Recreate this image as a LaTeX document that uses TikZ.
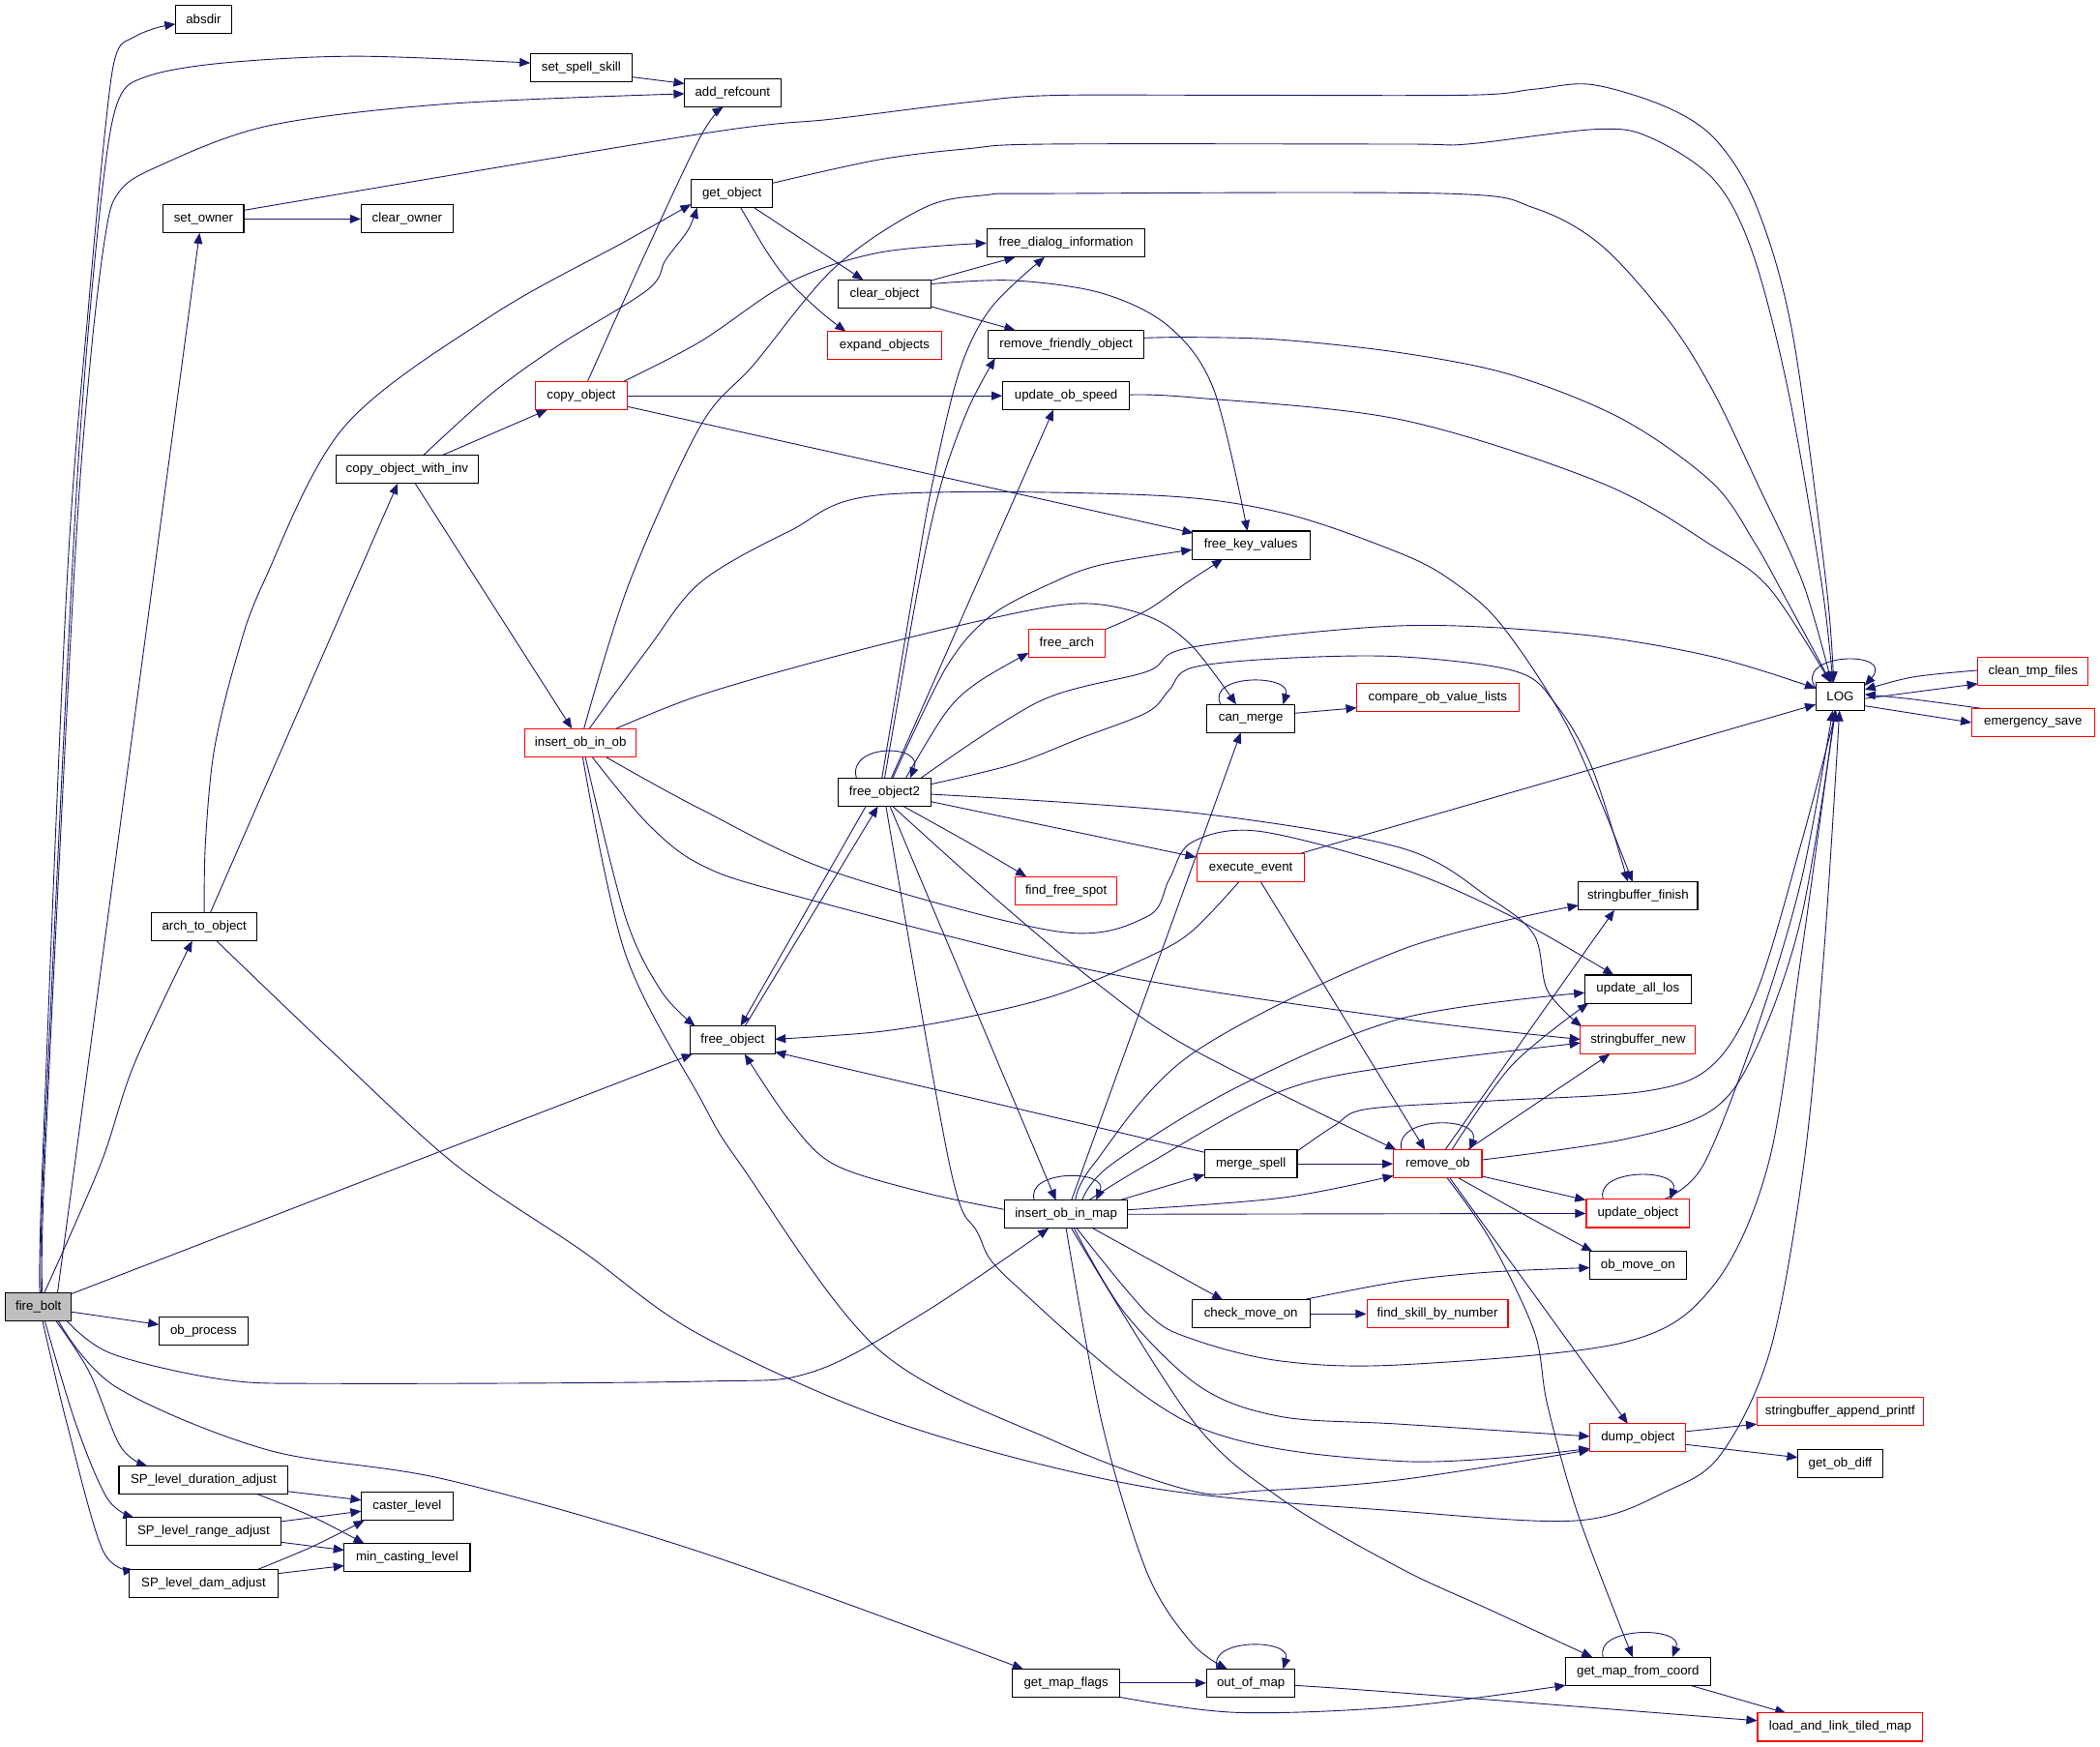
\documentclass[tikz,border=0pt]{standalone}
\usepackage{fontspec}
\setmainfont{Liberation Sans}
\usetikzlibrary{arrows.meta,calc,backgrounds}
\definecolor{edgec}{HTML}{191970}
\definecolor{fbgray}{HTML}{BFBFBF}
\definecolor{redb}{HTML}{FF0000}
\newcommand\nodefont{\fontsize{9.6}{11}\selectfont}
\tikzset{
  box/.style={draw=black, line width=0.8pt, minimum height=21, inner sep=0pt, font=\nodefont, fill=white},
  rbox/.style={box, draw=redb},
  e/.style={draw=edgec, line width=0.65pt, -{Triangle[length=8pt,width=6.5pt]}},
}
\begin{document}
\begin{tikzpicture}[x=1pt,y=-1pt]
\useasboundingbox (0,0) rectangle (1568,1303.66);
% ---------- nodes ----------
\node[box, minimum width=49.4, fill=fbgray] (FB) at (28.7,975.5) {fire\_bolt};
\node[box, minimum width=42] (AD) at (152,14.3) {absdir};
\node[box, minimum width=76] (SS) at (434,50.5) {set\_spell\_skill};
\node[box, minimum width=72] (AR) at (547,69.4) {add\_refcount};
\node[box, minimum width=60] (SO) at (152,163.5) {set\_owner};
\node[box, minimum width=68.5] (CO) at (304,163.5) {clear\_owner};
\node[box, minimum width=61] (GO) at (546.5,144.5) {get\_object};
\node[rbox, minimum width=68.5] (CP) at (434,295.5) {copy\_object};
\node[box, minimum width=106.5] (CWI) at (304,350.5) {copy\_object\_with\_inv};
\node[box, minimum width=118] (FDI) at (796,181.5) {free\_dialog\_information};
\node[box, minimum width=69] (CLO) at (660.5,219.5) {clear\_object};
\node[rbox, minimum width=85] (EO) at (660.5,258) {expand\_objects};
\node[box, minimum width=116.5] (RFO) at (796,257) {remove\_friendly\_object};
\node[box, minimum width=94.5] (UOS) at (796,295.5) {update\_ob\_speed};
\node[box, minimum width=88] (FKV) at (934,407) {free\_key\_values};
\node[rbox, minimum width=83] (IOO) at (433.5,554.5) {insert\_ob\_in\_ob};
\node[box, minimum width=79] (ATO) at (152.5,692) {arch\_to\_object};
\node[box, minimum width=69] (FO2) at (660.5,591.5) {free\_object2};
\node[rbox, minimum width=57] (FA) at (796.5,480.5) {free\_arch};
\node[box, minimum width=66] (CM) at (934,536.5) {can\_merge};
\node[rbox, minimum width=121] (COVL) at (1073.5,521) {compare\_ob\_value\_lists};
\node[rbox, minimum width=76] (FFS) at (796,665) {find\_free\_spot};
\node[rbox, minimum width=80] (EE) at (934,648) {execute\_event};
\node[box, minimum width=63.3] (FO) at (547,776.5) {free\_object};
\node[box, minimum width=69] (MS) at (934,869) {merge\_spell};
\node[box, minimum width=36.6] (LOG) at (1374,520) {LOG};
\node[rbox, minimum width=82.5] (CTF) at (1518,501) {clean\_tmp\_files};
\node[rbox, minimum width=92] (ES) at (1518,539.5) {emergency\_save};
\node[box, minimum width=89] (SBF) at (1223,669) {stringbuffer\_finish};
\node[box, minimum width=79.5] (UAL) at (1223,738.5) {update\_all\_los};
\node[rbox, minimum width=86] (SBN) at (1223,776.5) {stringbuffer\_new};
\node[rbox, minimum width=66] (RO) at (1073.5,869) {remove\_ob};
\node[box, minimum width=91.5] (IOM) at (796,906.6) {insert\_ob\_in\_map};
\node[rbox, minimum width=77] (UO) at (1223,906) {update\_object};
\node[box, minimum width=72] (OMO) at (1223,944.8) {ob\_move\_on};
\node[box, minimum width=88] (CMO) at (934,981) {check\_move\_on};
\node[rbox, minimum width=105.4] (FSN) at (1073.3,981) {find\_skill\_by\_number};
\node[box, minimum width=66.7] (OP) at (152,994) {ob\_process};
\node[rbox, minimum width=124.6] (SAP) at (1374,1054) {stringbuffer\_append\_printf};
\node[rbox, minimum width=71.4] (DO) at (1223,1073.5) {dump\_object};
\node[box, minimum width=63.4] (GOD) at (1374,1092.8) {get\_ob\_diff};
\node[box, minimum width=126.3] (SPD) at (152,1105) {SP\_level\_duration\_adjust};
\node[box, minimum width=68.5] (CL) at (304,1124.7) {caster\_level};
\node[box, minimum width=116] (SPR) at (152,1143.5) {SP\_level\_range\_adjust};
\node[box, minimum width=94] (MCL) at (304,1163) {min\_casting\_level};
\node[box, minimum width=111.5] (SPDA) at (152,1182.5) {SP\_level\_dam\_adjust};
\node[box, minimum width=80] (GMF) at (796,1256.6) {get\_map\_flags};
\node[box, minimum width=66] (OOM) at (934,1256.6) {out\_of\_map};
\node[box, minimum width=108] (GMC) at (1223,1247.8) {get\_map\_from\_coord};
\node[rbox, minimum width=123.4] (LLT) at (1374,1289.5) {load\_and\_link\_tiled\_map};
% ---------- edges ----------
\begin{pgfonlayer}{background}
\fill[white] (0,0) rectangle (1568,1303.66);
% fire_bolt
\draw[e] plot[smooth,tension=.55] coordinates {($(FB)+(1,-10.5)$) (31.7,869.5) (50,434.8) (66.7,221.8) (80,83.2) (87.4,38.8) (100,27.7) (116.7,20.8) ($(AD)+(-21,3.7)$)};
\draw[e] plot[smooth,tension=.55] coordinates {($(FB)+(2,-10.5)$) (32.5,869.5) (53.4,434.8) (63.4,277.3) (76.7,138.7) (88.4,74.9) (110,57) (166.8,47) (266.8,42) ($(SS)+(-38,-3.5)$)};
\draw[e] plot[smooth,tension=.55] coordinates {($(FB)+(3,-10.5)$) (33.4,869.5) (55,434.8) (66.7,277.3) (78.4,177.5) (88.4,144) (116.7,124.8) (200,94) (333.5,77.6) ($(AR)+(-36,0.6)$)};
\draw[e] ($(FB)+(14.3,-10.5)$) -- ($(SO)+(-3,10.5)$);
\draw[e] plot[smooth,tension=.55] coordinates {($(FB)+(4.5,-10.5)$) (75,869.5) (100,795) ($(ATO)+(-9,10.5)$)};
\draw[e] ($(FB)+(24.7,-9.5)$) -- ($(FO)+(-30,10.5)$);
\draw[e] plot[smooth,tension=.55] coordinates {($(FB)+(21,10.5)$) (83.4,1010.7) (166.8,1030) (250,1033) (523,1031.4) (606,1024.5) (690,980) ($(IOM)+(-13,10.5)$)};
\draw[e] ($(FB)+(24.7,4)$) -- ($(OP)+(-33.35,-5)$);
\draw[e] plot[smooth,tension=.55] coordinates {($(FB)+(13,10.5)$) (66.7,1024.5) (90,1080) ($(SPD)+(-42,-10.5)$)};
\draw[e] plot[smooth,tension=.55] coordinates {($(FB)+(4.7,10.5)$) (56.7,1063.3) (80,1118.6) ($(SPR)+(-52,-10.5)$)};
\draw[e] plot[smooth,tension=.55] coordinates {($(FB)+(3,10.5)$) (50,1063) (76.7,1157.4) ($(SPDA)+(-52,-10.5)$)};
\draw[e] plot[smooth,tension=.55] coordinates {($(FB)+(14.7,10.5)$) (86.7,1035.6) (200,1082.6) (333.5,1104.8) (523,1158.8) ($(GMF)+(-32,-10.5)$)};
% top area
\draw[e] ($(SS)+(38,7)$) -- ($(AR)+(-36,-7)$);
\draw[e] (SO.east) -- (CO.west);
\draw[e] plot[smooth,tension=.55] coordinates {($(SO)+(30,-6.5)$) (523,100) (623,88.7) (723,76.3) (783,71.3) (900,71) (1095.6,71) (1145.5,66.6) (1188.8,63.2) (1245.3,80.4) (1282,105.4) (1312,155.3) (1338.5,249.6) (1363.4,434.8) ($(LOG)+(-5,-10.5)$)};
\draw[e] plot[smooth,tension=.55] coordinates {($(GO)+(30.5,-7.8)$) (656.3,119.2) (723,111) (783,107.6) (1045.7,107.6) (1095.6,107.6) (1192,96.5) (1232,102.6) (1280,134.5) (1308.5,188.6) (1335,291) (1360,434.8) ($(LOG)+(-5.5,-10.5)$)};
\draw[e] plot[smooth,tension=.55] coordinates {($(IOO)+(2.5,-10.5)$) (470,434.8) (523,318) (563,272) (623,200) (689.6,155.3) (736.3,145.6) (783,144.5) (1079,144.5) (1145.5,155.3) (1195.4,183) (1245.3,238.5) (1278.6,291.2) (1311.9,360.5) (1346,434.8) ($(LOG)+(-6.5,-10.5)$)};
\draw[e] plot[smooth,tension=.55] coordinates {($(RFO)+(58.25,-4.7)$) (889.7,251.8) (956.5,253.7) (1045.8,263.4) (1128.9,280) (1212,313.3) (1278.6,360.5) (1310,405) (1335,450) ($(LOG)+(-7,-10.5)$)};
\draw[e] plot[smooth,tension=.55] coordinates {($(UOS)+(47.25,-0.7)$) (889.7,296.7) (1045.8,313.3) (1195.4,360.5) (1278.6,407.6) (1321.8,440) ($(LOG)+(-7.5,-10.5)$)};
\draw[e] ($(GO)+(16.5,10.5)$) -- ($(CLO)+(-16,-10.5)$);
\draw[e] plot[smooth,tension=.55] coordinates {($(GO)+(6.5,10.5)$) (573,188.6) (589.6,210.7) (613,233) ($(EO)+(-29,-10.5)$)};
\draw[e] plot[smooth,tension=.55] coordinates {($(CP)+(4.6,-10.5)$) (481,191) (523,102) ($(AR)+(-7,10.5)$)};
\draw[e] plot[smooth,tension=.55] coordinates {($(CP)+(31.2,-10.5)$) (523,255) (589.6,210.7) (656.3,188.6) (FDI.west)};
\draw[e] (CP.east) -- (UOS.west);
\draw[e] ($(CP)+(34.25,8)$) -- ($(FKV)+(-43,-9)$);
\draw[e] ($(CWI)+(26,-10.5)$) -- ($(CP)+(-25.5,10.5)$);
\draw[e] plot[smooth,tension=.55] coordinates {($(CWI)+(12,-10.5)$) (366.9,294) (416.9,257.9) (483.6,216.3) (497,194) (513.6,172) ($(GO)+(-26,10.5)$)};
\draw[e] ($(CWI)+(6,10.5)$) -- ($(IOO)+(-6.5,-10.5)$);
\draw[e] plot[smooth,tension=.55] coordinates {($(ATO)+(0,-10.5)$) (153.4,628.9) (160,559.6) (176.8,490.3) (196.8,434.8) (256.8,318.9) (366.9,235.7) (466.9,180.2) ($(GO)+(-30.5,8)$)};
\draw[e] ($(ATO)+(4.5,-10.5)$) -- ($(CWI)+(-7,10.5)$);
\draw[e] plot[smooth,tension=.55] coordinates {($(ATO)+(9.2,10.5)$) (250,787) (340,869.5) (433.6,933.2) (523,996.8) (673,1063.3) (856,1110.3) (1046,1128.3) (1178.8,1135.2) (1245.3,1113) (1285.2,1085.4) (1321.8,1007.9) (1346.8,869.5) (1361.8,712.1) ($(LOG)+(-0.5,10.5)$)};
% insert_ob_in_ob
\draw[e] plot[smooth,tension=.55] coordinates {($(IOO)+(26.5,-10.5)$) (523,519) (623,490.3) (736.3,462.5) (806.4,450.6) (856.4,459.8) (889.7,482) ($(CM)+(-11,-10.5)$)};
\draw[e] plot[smooth,tension=.55] coordinates {($(IOO)+(6.5,-10.5)$) (483.6,484.7) (523,434.8) (589.6,396.5) (656.3,369.6) (856.4,369.6) (956.5,382.7) (1045.8,413.2) (1085.6,434.8) (1122.2,468) (1172.1,545.7) ($(SBF)+(-4,-10.5)$)};
\draw[e] plot[smooth,tension=.55] coordinates {($(IOO)+(18.5,10.5)$) (523,604) (623,651.1) (789.7,695.5) (856.4,684.4) (873,656.6) (889.7,629) (939.8,620.6) (1045.8,648.3) (1128.9,684.4) ($(UAL)+(-18,-10.5)$)};
\draw[e] plot[smooth,tension=.55] coordinates {($(IOO)+(8.5,10.5)$) (483.6,615) (523,645.5) (589.6,667.7) (823,726) (1045.8,760.6) ($(SBN)+(-43,-0.5)$)};
\draw[e] plot[smooth,tension=.55] coordinates {($(IOO)+(3.5,10.5)$) (466.9,684.4) (493.6,739.8) ($(FO)+(-28,-10.5)$)};
\draw[e] plot[smooth,tension=.55] coordinates {($(IOO)+(1.5,10.5)$) (466.9,712.1) (523,820.3) (553,869.5) (656.3,1007.9) (789.7,1077) (889.7,1113.1) (939.8,1113.1) (1045.8,1104.8) ($(DO)+(-36,9)$)};
% free_object2
\draw[e] ($(FO2)+(-21,-10.5)$) .. controls (632,555) and (690,555) .. ($(FO2)+(19,-10.5)$);
\draw[e] plot[smooth,tension=.55] coordinates {($(FO2)+(-2,-10.5)$) (683,434.8) (696.3,360.5) (716.3,277.3) (739.7,230.2) ($(FDI)+(-16,10.5)$)};
\draw[e] plot[smooth,tension=.55] coordinates {($(FO2)+(0,-10.5)$) (686.3,434.8) (703,360.5) (723,305) ($(RFO)+(-53,10.5)$)};
\draw[e] ($(FO2)+(5,-10.5)$) -- ($(UOS)+(-9.5,10.5)$);
\draw[e] plot[smooth,tension=.55] coordinates {($(FO2)+(6,-10.5)$) (706.3,498.6) (739.7,459.8) (786.4,434.8) (823,421.5) ($(FKV)+(-44,3.4)$)};
\draw[e] plot[smooth,tension=.55] coordinates {($(FO2)+(15.8,-10.5)$) (706.3,531.9) (729.7,509.7) ($(FA)+(-28.5,7)$)};
\draw[e] plot[smooth,tension=.55] coordinates {($(FO2)+(27,-10.5)$) (776.4,523.5) (856.4,501.4) (889.7,483.3) (1045.8,467.2) (1178.8,473.6) (1278.6,490.3) ($(LOG)+(-18.3,-6)$)};
\draw[e] plot[smooth,tension=.55] coordinates {($(FO2)+(34.5,-6)$) (756.4,570.7) (806.4,551.3) (856.4,531.9) (873,515.2) (889.7,498.6) (956.5,491.6) (1045.8,490.3) (1132.2,501.4) (1162,526.3) (1188.8,573.5) ($(SBF)+(-7.5,-10.5)$)};
\draw[e] plot[smooth,tension=.55] coordinates {($(FO2)+(34.5,1.5)$) (889.7,606.7) (1045.8,633) (1112.2,670.5) (1145.5,698.2) (1155.5,739.8) ($(SBN)+(-42,-10)$)};
\draw[e] ($(FO2)+(34.5,7)$) -- ($(EE)+(-41,-8)$);
\draw[e] plot[smooth,tension=.55] coordinates {($(FO2)+(14,10.5)$) (723,629) ($(FFS)+(-29.6,-10.5)$)};
\draw[e] plot[smooth,tension=.55] coordinates {($(FO2)+(6,10.5)$) (740,668) (820,735) (890.7,783.6) ($(RO)+(-31,-10.5)$)};
\draw[e] ($(FO2)+(4,10.5)$) -- ($(IOM)+(-7.6,-10.5)$);
\draw[e] ($(FO2)+(-14,10.5)$) -- ($(FO)+(6,-10.5)$);
\draw[e] ($(FO)+(9.3,-10.5)$) -- ($(FO2)+(-5,10.5)$);
\draw[e] plot[smooth,tension=.55] coordinates {($(FO2)+(1,10.5)$) (709,869.5) (729.7,920) (756.4,958) (889.7,1063.3) (1045.8,1091) ($(DO)+(-36,8)$)};
% clear_object, free_arch, can_merge
\draw[e] ($(CLO)+(34.5,-10)$) -- ($(FDI)+(-38,10.5)$);
\draw[e] ($(CLO)+(34.5,9.3)$) -- ($(RFO)+(-38,-10.5)$);
\draw[e] plot[smooth,tension=.55] coordinates {($(CLO)+(34.5,-7.5)$) (756.4,209.4) (823,219) (873,244) (906.4,291.2) ($(FKV)+(-2.6,-10.5)$)};
\draw[e] plot[smooth,tension=.55] coordinates {($(FA)+(28.5,-10.5)$) (856.4,455.6) (886.4,434.8) ($(FKV)+(-21,10.5)$)};
\draw[e] ($(CM)+(-22.6,-10.5)$) .. controls (900,503) and (965,503) .. ($(CM)+(24,-10.5)$);
\draw[e] ($(CM)+(33,-4)$) -- ($(COVL)+(-60.5,7.5)$);
% insert_ob_in_map
\draw[e] ($(IOM)+(-23.7,-10.5)$) .. controls (765,873) and (828,873) .. ($(IOM)+(22.5,-10.5)$);
\draw[e] plot[smooth,tension=.55] coordinates {($(IOM)+(-45.75,-3.5)$) (689.6,890.3) (623,869.5) (589.6,836.9) ($(FO)+(9,10.5)$)};
\draw[e] ($(IOM)+(4,-10.5)$) -- ($(CM)+(-7.6,10.5)$);
\draw[e] plot[smooth,tension=.55] coordinates {($(IOM)+(7,-10.5)$) (816.4,869.5) (889.7,787) (1045.8,709.3) ($(SBF)+(-44.5,7)$)};
\draw[e] plot[smooth,tension=.55] coordinates {($(IOM)+(12,-10.5)$) (829.7,869.5) (923.1,812) (1045.8,760.6) ($(UAL)+(-39.75,2.7)$)};
\draw[e] plot[smooth,tension=.55] coordinates {($(IOM)+(17,-10.5)$) (856.4,869.5) (956.5,814.7) (1045.8,795.3) ($(SBN)+(-43,2.2)$)};
\draw[e] ($(IOM)+(40,-10.5)$) -- ($(MS)+(-34.5,8)$);
\draw[e] plot[smooth,tension=.55] coordinates {($(IOM)+(45.75,-3.3)$) (956.5,894.4) ($(RO)+(-33,8.8)$)};
\draw[e] (IOM.east) -- (UO.west);
\draw[e] ($(IOM)+(20,10.5)$) -- ($(CMO)+(-21,-10.5)$);
\draw[e] plot[smooth,tension=.55] coordinates {($(IOM)+(8,10.5)$) (856.4,980.2) (889.7,999.6) (956.5,1016.2) (1045.8,1019) (1212,1002.4) (1278.6,960.8) (1320.2,869.5) (1345.1,712.1) ($(LOG)+(-4,10.5)$)};
\draw[e] plot[smooth,tension=.55] coordinates {($(IOM)+(6,10.5)$) (839.7,980.2) (896.4,1035.6) (956.5,1057.7) (1045.8,1063.3) ($(DO)+(-36,-1)$)};
\draw[e] plot[smooth,tension=.55] coordinates {($(IOM)+(4,10.5)$) (890,1060) (956.5,1119) (1045.8,1171) (1112,1201.7) ($(GMC)+(-34,-10.5)$)};
\draw[e] plot[smooth,tension=.55] coordinates {($(IOM)+(0,10.5)$) (823,1063.3) (856.4,1174) (889.7,1226.6) ($(OOM)+(-17.6,-10.5)$)};
% merge_spell, execute_event
\draw[e] (MS.east) -- (RO.west);
\draw[e] ($(MS)+(-34.5,-8.6)$) -- ($(FO)+(31.65,9)$);
\draw[e] plot[smooth,tension=.55] coordinates {($(MS)+(34.5,-9.5)$) (997,840) (1021,828) (1112.8,822) (1228.7,814.7) (1278.6,795.3) (1311.9,739.8) (1345.1,628.9) ($(LOG)+(-3,10.5)$)};
\draw[e] ($(EE)+(36,-10.5)$) -- ($(LOG)+(-18.3,6)$);
\draw[e] plot[smooth,tension=.55] coordinates {($(EE)+(-9,10.5)$) (889.7,695.5) (856.4,714.9) (789.7,742.6) (723,759.2) (656.3,770.3) ($(FO)+(31.65,-0.6)$)};
\draw[e] ($(EE)+(7.4,10.5)$) -- ($(RO)+(-9.5,-10.5)$);
% remove_ob
\draw[e] ($(RO)+(-27,-10.5)$) .. controls (1040,833) and (1106,833) .. ($(RO)+(24,-10.5)$);
\draw[e] ($(RO)+(5.5,-10.5)$) -- ($(SBF)+(-17.6,10.5)$);
\draw[e] plot[smooth,tension=.55] coordinates {($(RO)+(10.5,-10.5)$) (1128.9,795.3) ($(UAL)+(-37,10.5)$)};
\draw[e] ($(RO)+(22,-10.5)$) -- ($(SBN)+(-21,10.5)$);
\draw[e] plot[smooth,tension=.55] coordinates {($(RO)+(33,-3)$) (1212,850.8) (1278.6,828.6) (1311.9,781.4) (1345.1,684.4) ($(LOG)+(-3.5,10.5)$)};
\draw[e] ($(RO)+(32,9)$) -- ($(UO)+(-39,-10)$);
\draw[e] plot[smooth,tension=.55] coordinates {($(RO)+(15.5,10.5)$) (1145.5,911) ($(OMO)+(-34,-10.5)$)};
\draw[e] ($(RO)+(9,10.5)$) -- ($(DO)+(-7.6,-10.5)$);
\draw[e] plot[smooth,tension=.55] coordinates {($(RO)+(7,10.5)$) (1112.2,924.9) (1145.5,994) (1155.5,1049.4) (1178.8,1132.5) ($(GMC)+(-4,-10.5)$)};
% update_object, check_move_on, dump_object
\draw[e] ($(UO)+(-26,-10.5)$) .. controls (1190,872) and (1255,872) .. ($(UO)+(24,-10.5)$);
\draw[e] plot[smooth,tension=.55] coordinates {($(UO)+(19,-10.5)$) (1272,869.5) (1311.9,767.6) (1345.1,656.6) ($(LOG)+(-5.6,10.5)$)};
\draw[e] plot[smooth,tension=.55] coordinates {($(CMO)+(39,-10.5)$) (1045.8,956.7) (1112.2,949.8) ($(OMO)+(-36,1.7)$)};
\draw[e] (CMO.east) -- (FSN.west);
\draw[e] ($(DO)+(35.7,-4.7)$) -- ($(SAP)+(-62.3,9.3)$);
\draw[e] ($(DO)+(35.7,5)$) -- ($(GOD)+(-31.7,-4.6)$);
% maps
\draw[e] (GMF.east) -- (OOM.west);
\draw[e] plot[smooth,tension=.55] coordinates {($(GMF)+(40,10.5)$) (923.1,1278.6) (1045.8,1274.2) ($(GMC)+(-54,10.5)$)};
\draw[e] ($(OOM)+(-25,-10.5)$) .. controls (900,1223) and (965,1223) .. ($(OOM)+(24,-10.5)$);
\draw[e] plot[smooth,tension=.55] coordinates {($(OOM)+(33,1.8)$) (1045.8,1263.9) ($(LLT)+(-62,-4.8)$)};
\draw[e] ($(GMC)+(-26,-10.5)$) .. controls (1190,1214) and (1258,1214) .. ($(GMC)+(25.6,-10.5)$);
\draw[e] ($(GMC)+(39,10.5)$) -- ($(LLT)+(-40.5,-10.5)$);
% SP level
\draw[e] ($(SPD)+(63.15,8.6)$) -- ($(CL)+(-34.25,-4.7)$);
\draw[e] plot[smooth,tension=.55] coordinates {($(SPD)+(40,10.5)$) (233.5,1132.5) ($(MCL)+(-32,-10.5)$)};
\draw[e] ($(SPR)+(58,-7.5)$) -- ($(CL)+(-34.25,3.6)$);
\draw[e] ($(SPR)+(58,8)$) -- ($(MCL)+(-47,-5.6)$);
\draw[e] plot[smooth,tension=.55] coordinates {($(SPDA)+(40,-10.5)$) (233.5,1154.6) ($(CL)+(-32,10.5)$)};
\draw[e] ($(SPDA)+(55.75,-7.7)$) -- ($(MCL)+(-47,6)$);
% LOG
\draw[e] ($(LOG)+(-18.3,-6)$) .. controls (1338,487) and (1416,485) .. ($(LOG)+(18.3,-8)$);
\draw[e] ($(LOG)+(18.3,1.6)$) -- ($(CTF)+(-41.25,9.5)$);
\draw[e] ($(LOG)+(18.3,7)$) -- ($(ES)+(-46,0)$);
\draw[e] plot[smooth,tension=.55] coordinates {($(CTF)+(-41.25,-0.5)$) (1428.3,505.5) ($(LOG)+(18.3,-5)$)};
\draw[e] plot[smooth,tension=.55] coordinates {($(ES)+(-38,-10.5)$) (1428.3,522.1) ($(LOG)+(18.3,-1.5)$)};
\end{pgfonlayer}
\end{tikzpicture}
\end{document}
